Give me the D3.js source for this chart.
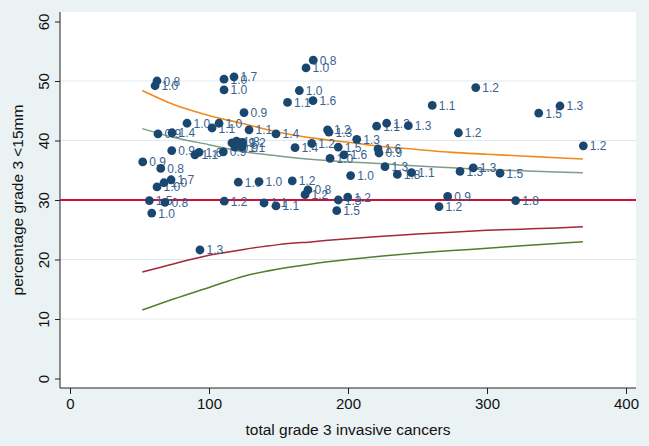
<!DOCTYPE html>
<html>
<head>
<meta charset="utf-8">
<script src="https://cdn.jsdelivr.net/npm/d3@7"></script>
<style>
  html, body { margin: 0; padding: 0; background: #eaf2f3; }
  svg { display: block; }
  text { font-family: "Liberation Sans", Arial, sans-serif; }
</style>
</head>
<body>
<svg id="chart" width="649" height="446"></svg>
<script>
// ---- data ----
const totals = [62.6,61.2,110.8,118.0,110.8,125.2,84.2,102.2,107.2,128.8,148.2,175.0,169.8,165.0,156.5,174.8,291.9,260.6,337.2,352.5,
  220.6,227.8,243.4,279.4,369.3,161.9,173.9,185.3,186.3,206.3,193.0,187.1,197.1,221.6,222.3,226.6,235.5,245.7,280.6,290.1,
  309.4,201.9,159.9,171.2,169.1,193.0,199.8,191.9,271.7,265.5,320.6,63.3,73.4,73.2,52.3,65.3,89.9,92.8,110.3,116.5,
  119.8,118.7,124.1,123.7,121.1,136.0,62.6,67.6,72.7,57.1,68.3,58.8,111.0,139.6,148.2,93.5];
const percents = [50.0,49.2,50.3,50.7,48.5,44.7,42.9,42.1,42.9,41.8,41.1,53.5,52.2,48.4,46.4,46.7,48.9,45.9,44.6,45.8,
  42.4,42.9,42.5,41.3,39.1,38.8,39.5,41.8,41.4,40.2,38.9,37.0,37.6,38.6,37.9,35.6,34.3,34.6,34.8,35.4,
  34.5,34.1,33.2,31.7,30.9,30.0,30.5,28.2,30.6,28.9,29.9,41.1,41.3,38.3,36.4,35.3,37.6,38.0,38.1,39.6,
  39.9,38.9,39.7,38.9,33.0,33.1,32.2,32.9,33.4,29.9,29.6,27.8,29.8,29.5,29.0,21.6];
const pointLabels = ["0.8","1.0","1.0","1.7","1.0","0.9","1.0","1.1","1.0","1.1","1.4","0.8","1.0","1.0","1.1","1.6","1.2","1.1","1.5","1.3",
  "1.1","1.3","1.3","1.2","1.2","1.4","1.2","1.2","1.3","1.3","1.5","1.0","1.6","1.6","0.9","1.3","1.8","1.1","1.3","1.3",
  "1.5","1.0","1.2","0.8","1.2","1.3","1.2","1.5","0.9","1.2","1.8","0.9","1.4","0.9","0.9","0.8","1.1","1.6","0.9","0.9",
  "1.8","0.9","1.2","1.1","1.0","1.0","1.0","1.0","1.7","1.5","0.8","1.0","1.2","1.1","1.1","1.3"];

const limitN    = [52, 75, 100, 125, 150, 175, 200, 225, 250, 275, 300, 325, 350, 369];
const upperOuter = [48.4, 46.0, 44.2, 42.8, 41.4, 40.4, 39.7, 39.0, 38.5, 38.0, 37.7, 37.4, 37.1, 36.9];
const upperInner = [42.0, 40.5, 39.3, 38.1, 37.4, 36.8, 36.4, 36.1, 35.7, 35.4, 35.1, 34.9, 34.7, 34.6];
const lowerInner = [17.9, 19.3, 20.7, 21.7, 22.5, 23.0, 23.5, 23.9, 24.3, 24.6, 24.9, 25.1, 25.3, 25.5];
const lowerOuter = [11.5, 13.4, 15.3, 17.2, 18.4, 19.3, 20.0, 20.6, 21.1, 21.5, 21.9, 22.3, 22.7, 23.0];
const targetPct = 30;

const xTicks = [0, 100, 200, 300, 400];
const yTicks = [0, 10, 20, 30, 40, 50, 60];
const xTitle = "total grade 3 invasive cancers";
const yTitle = "percentage grade 3 <15mm";

// ---- layout ----
const svg = d3.select("#chart");
const W = 649, H = 446;
const plot = {left: 60, right: 636, top: 12, bottom: 388};

svg.append("rect").attr("x", 0).attr("y", 0).attr("width", W).attr("height", H).attr("fill", "#eaf2f3");
svg.append("rect").attr("x", plot.left).attr("y", plot.top)
  .attr("width", plot.right - plot.left).attr("height", plot.bottom - plot.top).attr("fill", "#ffffff");

const x = d3.scaleLinear().domain([0, 400]).range([70, 626]);
const y = d3.scaleLinear().domain([0, 60]).range([378.5, 21.5]);

// gridlines
svg.append("g").selectAll("line").data(yTicks.filter(t => t > 0 && t < 60 && t !== targetPct)).join("line")
  .attr("x1", plot.left).attr("x2", plot.right)
  .attr("y1", d => y(d)).attr("y2", d => y(d))
  .attr("stroke", "#dde9f0").attr("stroke-width", 1);

// axes
const yAxis = d3.axisLeft(y).tickValues(yTicks).tickSize(5).tickPadding(4);
const gy = svg.append("g").attr("transform", `translate(${plot.left},0)`).call(yAxis);
gy.select(".domain").attr("d", `M0,${plot.top}V${plot.bottom}`).attr("stroke", "#222");
gy.selectAll(".tick line").attr("stroke", "#222");
gy.selectAll(".tick text")
  .attr("font-size", 15).attr("fill", "#111")
  .attr("x", null).attr("dy", null)
  .attr("text-anchor", "middle")
  .attr("transform", "translate(-11,0) rotate(-90)")
  .attr("dy", "0");

const xAxis = d3.axisBottom(x).tickValues(xTicks).tickSize(6).tickPadding(4);
const gx = svg.append("g").attr("transform", `translate(0,${plot.bottom})`).call(xAxis);
gx.select(".domain").attr("d", `M${plot.left},0H${plot.right}`).attr("stroke", "#222");
gx.selectAll(".tick line").attr("stroke", "#222");
gx.selectAll(".tick text").attr("font-size", 15).attr("fill", "#111");

// titles
svg.append("text").attr("x", 348).attr("y", 435).attr("text-anchor", "middle")
  .attr("font-size", 15.5).attr("fill", "#111").text(xTitle);
svg.append("text").attr("transform", "translate(23,200) rotate(-90)").attr("text-anchor", "middle")
  .attr("font-size", 15.5).attr("fill", "#111").text(yTitle);

// limit curves
const line = d3.line().x(d => x(d[0])).y(d => y(d[1])).curve(d3.curveMonotoneX);
const curves = [
  {vals: lowerOuter, color: "#4f7f2a", w: 1.5},
  {vals: lowerInner, color: "#a3283a", w: 1.5},
  {vals: upperInner, color: "#7f9c86", w: 1.5},
  {vals: upperOuter, color: "#f08a1c", w: 1.6}
];
curves.forEach(c => {
  svg.append("path").datum(limitN.map((n, i) => [n, c.vals[i]]))
    .attr("d", line).attr("fill", "none").attr("stroke", c.color).attr("stroke-width", c.w);
});

// target line
svg.append("line").attr("x1", plot.left).attr("x2", plot.right)
  .attr("y1", y(targetPct)).attr("y2", y(targetPct))
  .attr("stroke", "#cc1236").attr("stroke-width", 2);

// points with labels
const pts = totals.map((n, i) => ({n, p: percents[i], lab: pointLabels[i]}));
const gp = svg.append("g");
pts.forEach(d => {
  gp.append("circle").attr("cx", x(d.n)).attr("cy", y(d.p)).attr("r", 4.4).attr("fill", "#1a476f");
  gp.append("text").attr("x", x(d.n) + 6.5).attr("y", y(d.p) + 4.5)
    .attr("font-size", 12).attr("fill", "#3a628d").text(d.lab);
});
</script>
</body>
</html>
